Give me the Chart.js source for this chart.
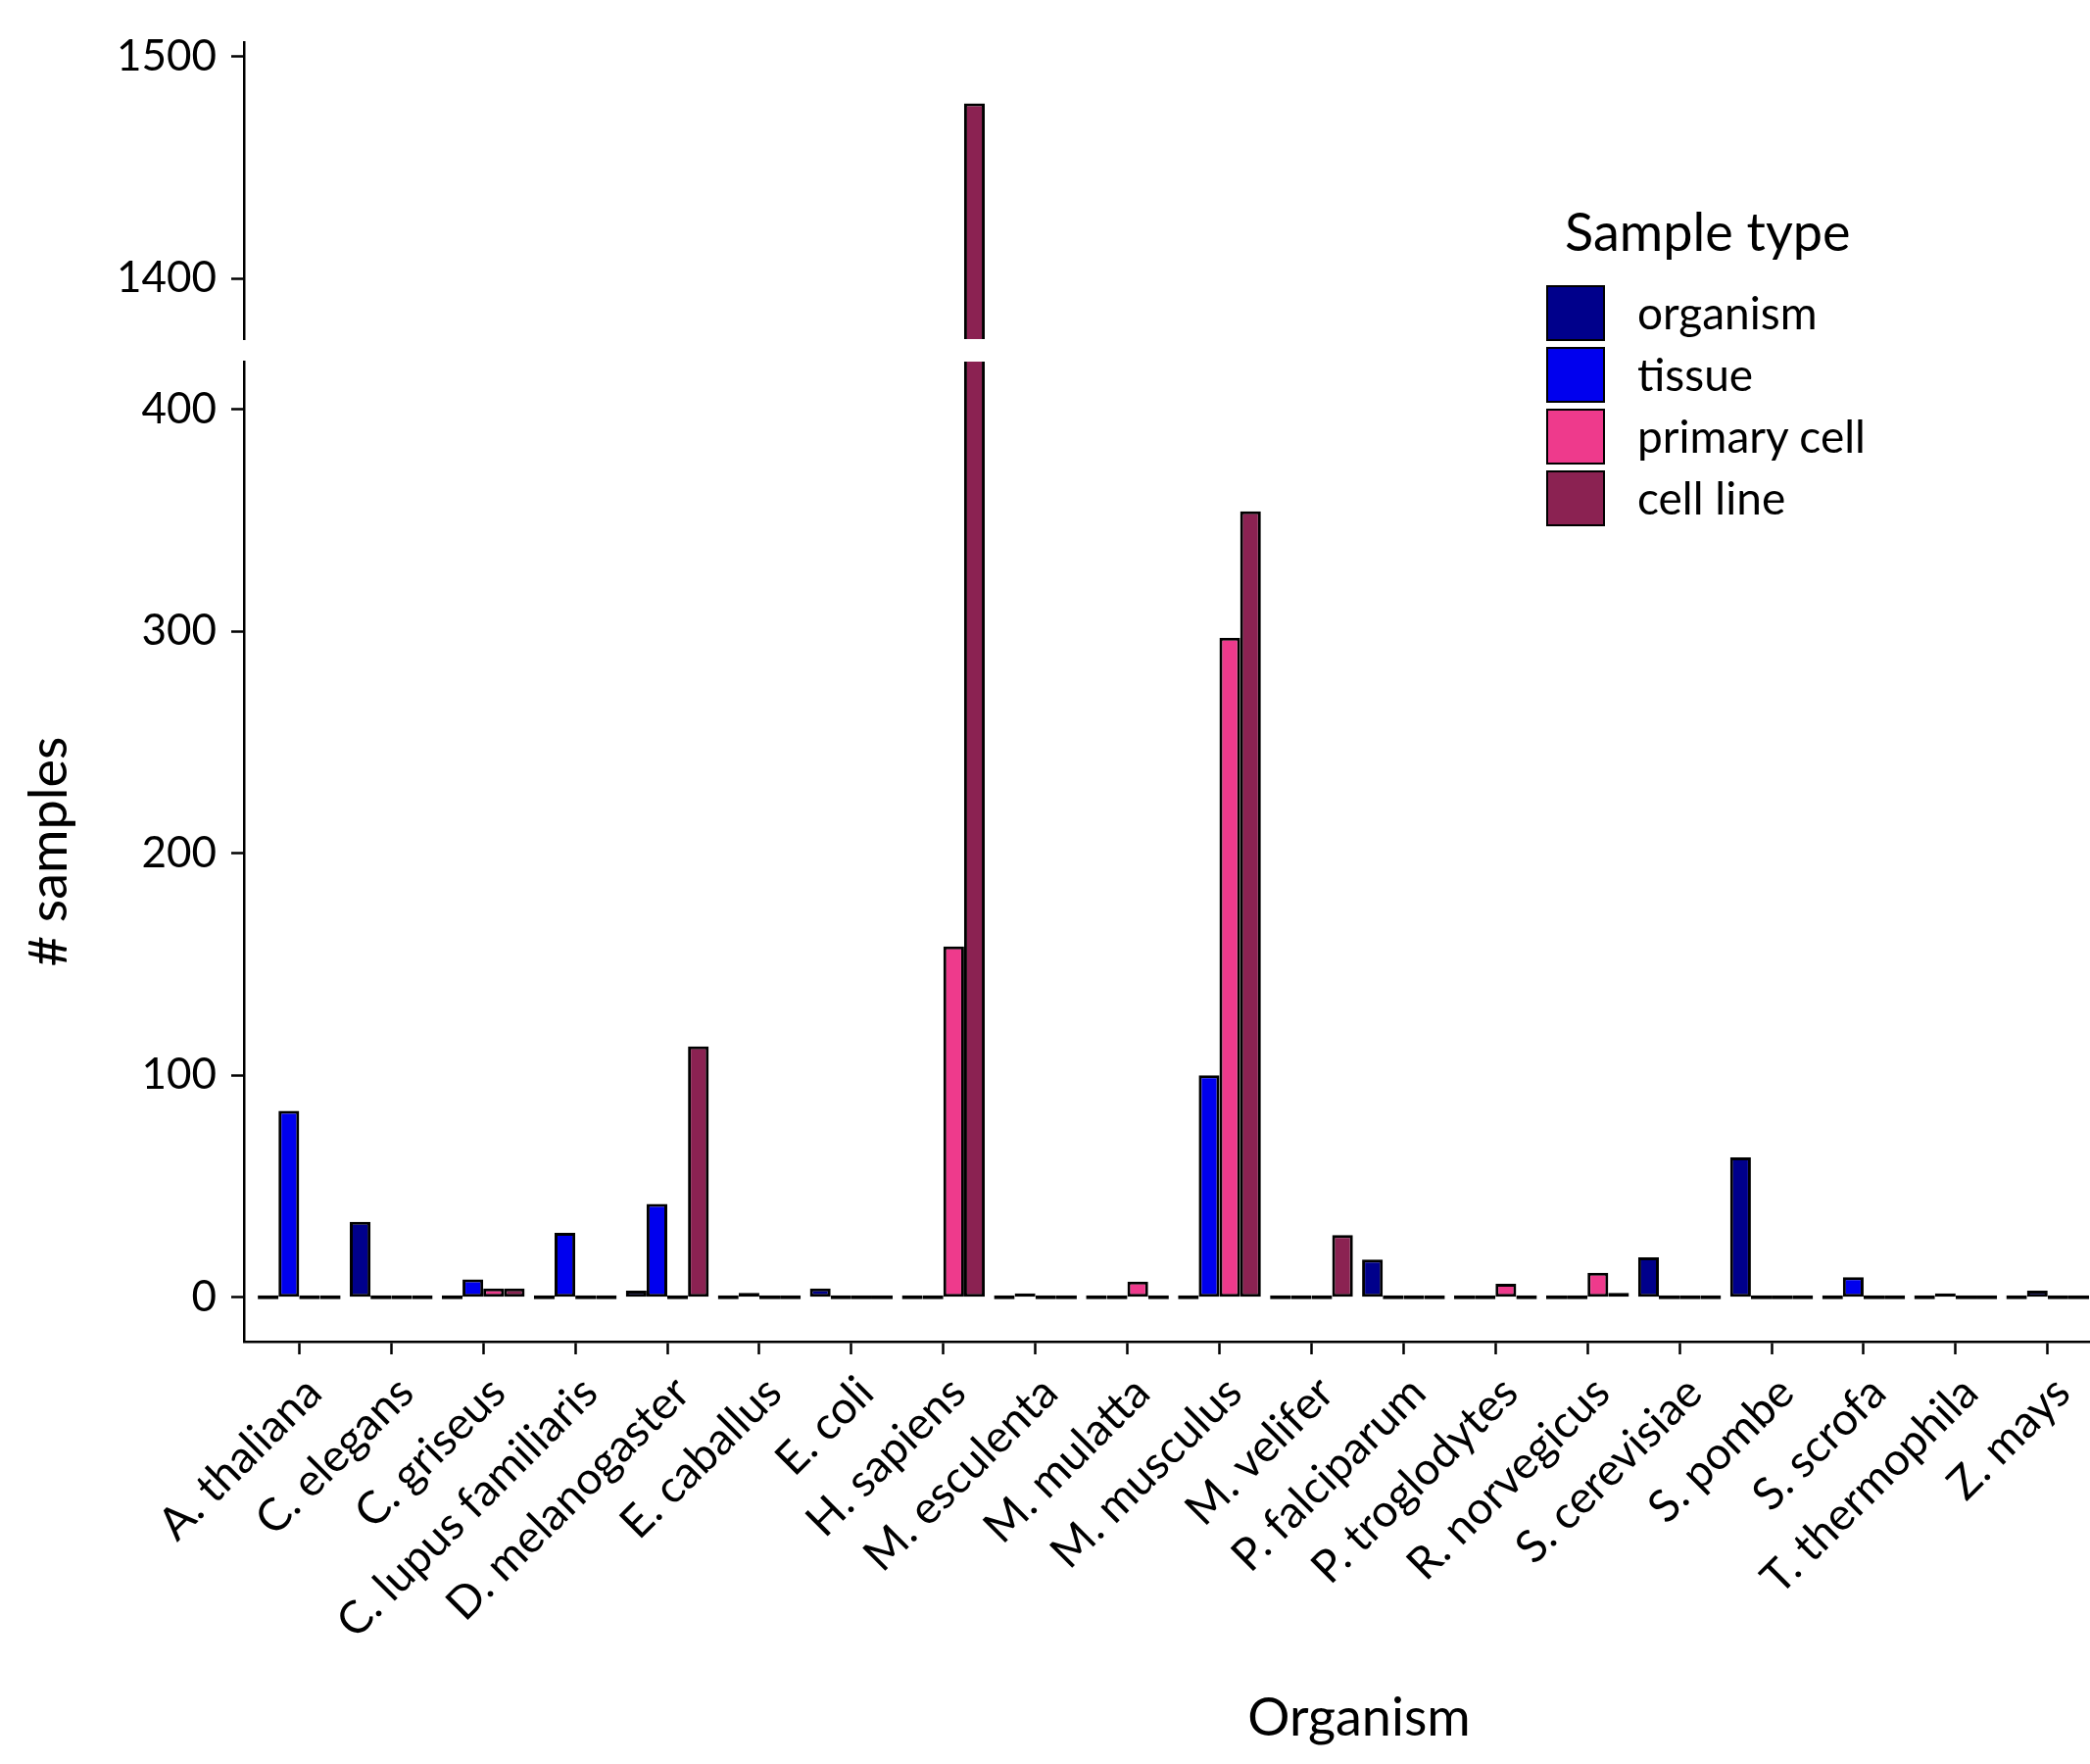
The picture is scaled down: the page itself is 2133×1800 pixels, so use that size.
<!DOCTYPE html>
<html>
<head>
<meta charset="utf-8">
<script src="https://cdn.jsdelivr.net/npm/chart.js@4.4.0/dist/chart.umd.min.js"></script>
<style>
    html, body { margin: 0; padding: 0; background: #fff; }
    body { width: 2133px; height: 1800px; position: relative; overflow: hidden; font-family: Lato, sans-serif; color: #000; }
    #topWrap { position: absolute; left: 0; top: 0; }
    #bottomWrap { position: absolute; left: 0; top: 360px; }
    .legend-title { position: absolute; left: 1597px; top: 209px; font-size: 54px; line-height: 1; white-space: nowrap; }
    .legend-row { position: absolute; left: 1578px; height: 58px; display: flex; align-items: center; white-space: nowrap; }
    .legend-swatch { width: 56px; height: 53px; border: 2.5px solid #000; }
    .legend-label { margin-left: 33px; font-size: 46px; line-height: 58px; }
    .x-title { position: absolute; left: 1387px; top: 1724px; transform: translateX(-50%); font-size: 54px; line-height: 1; white-space: nowrap; }
</style>
</head>
<body>
<div id="topWrap"><canvas id="topChart" width="2133" height="360"></canvas></div>
<div id="bottomWrap"><canvas id="bottomChart" width="2133" height="1440"></canvas></div>
<div id="legend"></div>
<div class="x-title">Organism</div>
<script>
'use strict';

var categories = ['A. thaliana', 'C. elegans', 'C. griseus', 'C. lupus familiaris', 'D. melanogaster',
    'E. caballus', 'E. coli', 'H. sapiens', 'M. esculenta', 'M. mulatta', 'M. musculus', 'M. velifer',
    'P. falciparum', 'P. troglodytes', 'R. norvegicus', 'S. cerevisiae', 'S. pombe', 'S. scrofa',
    'T. thermophila', 'Z. mays'];
var organism = [0, 34, 0, 0, 3, 0, 4, 0, 0, 0, 0, 0, 17, 0, 0, 18, 63, 0, 0, 0];
var tissue = [84, 0, 8, 29, 42, 2, 0, 0, 1, 0, 100, 0, 0, 0, 0, 0, 0, 9, 1, 3];
var primaryCell = [0, 0, 4, 0, 0, 0, 0, 158, 0, 7, 297, 0, 0, 6, 11, 0, 0, 0, 0, 0];
var cellLine = [0, 0, 4, 0, 113, 0, 0, 1479, 0, 0, 354, 28, 0, 0, 2, 0, 0, 0, 0, 0];
var seriesNames = ['organism', 'tissue', 'primary cell', 'cell line'];
var topTicks = [1400, 1500];
var bottomTicks = [0, 100, 200, 300, 400];

var seriesValues = [organism, tissue, primaryCell, cellLine];
var seriesColors = ['#00008B', '#0000EE', '#EE3A8C', '#8B2252'];

var fontFamily = 'Lato, sans-serif';
var axisWidth = 249;
var topRange = { min: 1372.7, max: 1506.6 };
var bottomRange = { min: -20, max: 421.4 };

function makeDatasets(keep) {
    return seriesValues.map(function (vals, s) {
        return {
            label: seriesNames[s],
            data: vals.map(function (v, i) { return { x: i, y: keep(v) ? v : null }; }),
            backgroundColor: seriesColors[s],
            borderColor: '#000',
            borderWidth: 3,
            borderSkipped: false,
            categoryPercentage: 0.9,
            barPercentage: 1.0,
            clip: 0
        };
    });
}

// shared pieces of the axes
var gridOpts = { drawOnChartArea: false, drawTicks: true, tickLength: 13, tickWidth: 2.5, tickColor: '#000', offset: false };
var borderOpts = { display: true, color: '#000', width: 2.5 };

function noPadding(scale) {
    scale.paddingLeft = 0;
    scale.paddingRight = 0;
    scale.paddingTop = 0;
    scale.paddingBottom = 0;
}

function xAxis(show) {
    return {
        type: 'linear',
        display: show,
        min: -0.6,
        max: 19.46,
        offset: false,
        afterBuildTicks: function (scale) {
            scale.ticks = categories.map(function (c, i) { return { value: i }; });
        },
        afterFit: function (scale) {
            noPadding(scale);
            if (show) scale.height = 431;
        },
        grid: gridOpts,
        border: borderOpts,
        ticks: {
            autoSkip: false,
            minRotation: 45,
            maxRotation: 45,
            color: '#000',
            padding: 12,
            labelOffset: 15,
            font: { family: fontFamily, size: 46 },
            callback: function (value) { return categories[value]; }
        }
    };
}

function yAxis(range, tickList, withTitle) {
    return {
        type: 'linear',
        min: range.min,
        max: range.max,
        afterBuildTicks: function (scale) {
            scale.ticks = tickList.map(function (v) { return { value: v }; });
        },
        afterFit: function (scale) {
            noPadding(scale);
            scale.width = axisWidth;
        },
        grid: gridOpts,
        border: borderOpts,
        ticks: {
            color: '#000',
            padding: 15,
            font: { family: fontFamily, size: 44 },
            callback: function (value) { return String(value); }
        },
        title: {
            display: withTitle,
            text: '# samples',
            color: '#000',
            padding: { top: 18, bottom: 0 },
            font: { family: fontFamily, size: 54 }
        }
    };
}

function baseOptions(padding) {
    return {
        responsive: false,
        animation: false,
        devicePixelRatio: 1,
        layout: { padding: padding },
        plugins: { legend: { display: false }, tooltip: { enabled: false } }
    };
}

// upper panel: only the values that reach the broken part of the axis
var topOptions = baseOptions({ top: 43, bottom: 14, left: 0, right: 0 });
topOptions.scales = { x: xAxis(false), y: yAxis(topRange, topTicks, false) };
new Chart(document.getElementById('topChart'), {
    type: 'bar',
    data: { datasets: makeDatasets(function (v) { return v >= topRange.min; }) },
    options: topOptions
});

// lower panel: everything, zero counts shown as a flat line
var bottomOptions = baseOptions({ top: 9, bottom: 0, left: 0, right: 0 });
bottomOptions.scales = { x: xAxis(true), y: yAxis(bottomRange, bottomTicks, true) };
var bottomSets = makeDatasets(function () { return true; });
bottomSets.forEach(function (ds) { ds.minBarLength = 4; });
new Chart(document.getElementById('bottomChart'), {
    type: 'bar',
    data: { datasets: bottomSets },
    options: bottomOptions
});

// legend
var legend = document.getElementById('legend');
var title = document.createElement('div');
title.className = 'legend-title';
title.textContent = 'Sample type';
legend.appendChild(title);
seriesNames.forEach(function (name, i) {
    var row = document.createElement('div');
    row.className = 'legend-row';
    row.style.top = (290 + i * 63) + 'px';
    var sw = document.createElement('div');
    sw.className = 'legend-swatch';
    sw.style.background = seriesColors[i];
    var lab = document.createElement('span');
    lab.className = 'legend-label';
    lab.textContent = name;
    row.appendChild(sw);
    row.appendChild(lab);
    legend.appendChild(row);
});
</script>
</body>
</html>
